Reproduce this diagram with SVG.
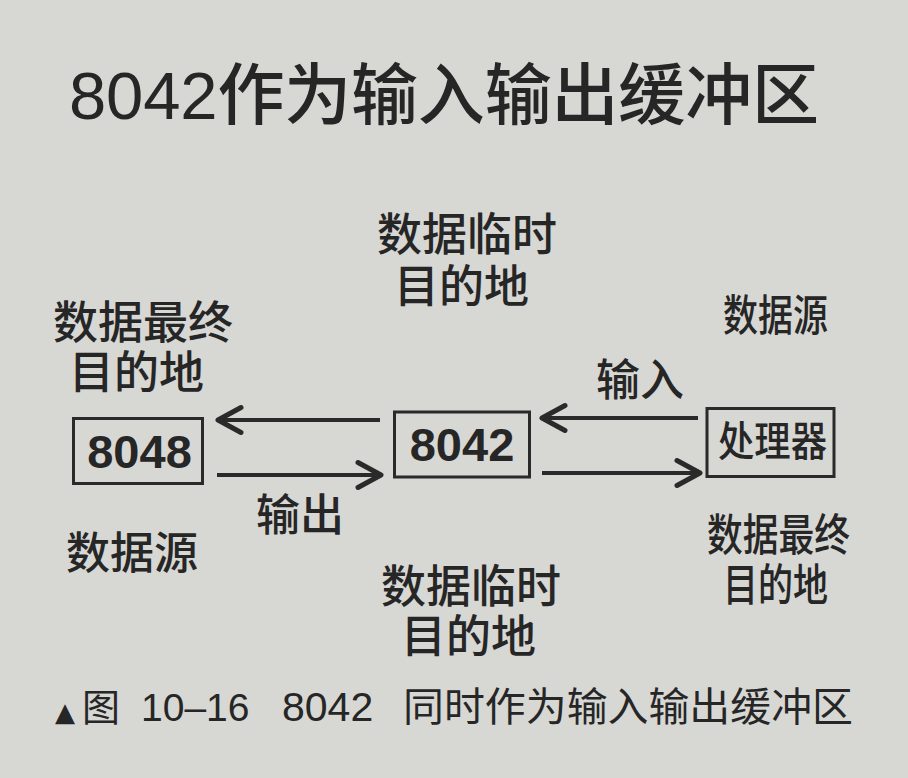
<svg xmlns="http://www.w3.org/2000/svg" width="908" height="778" viewBox="0 0 908 778">
  <style>
    .t { font-family: "Liberation Sans", "Noto Sans CJK SC", sans-serif; fill: #262626; }
    .m { font-weight: 500; }
    .lbl { font-size: 45px; }
    .num { font-size: 47px; font-weight: bold; }
    .box { fill: none; stroke: #2a2a2a; stroke-width: 3; }
    .conn { stroke: #2a2a2a; stroke-width: 4; fill: none; }
  </style>
  <defs>
    <marker id="arr" markerUnits="userSpaceOnUse" markerWidth="40" markerHeight="40" viewBox="-30 -20 40 40" refX="0" refY="0" orient="auto" overflow="visible">
      <path d="M -23,-12.5 L 0,0 L -23,12.5" fill="none" stroke="#2a2a2a" stroke-width="5" stroke-linecap="round" stroke-linejoin="round"/>
    </marker>
  </defs>
  <rect x="0" y="0" width="908" height="778" fill="#d7d7d4"/>

  <g id="title">
    <text class="t m" x="69" y="119" font-size="67" textLength="750" lengthAdjust="spacing">8042作为输入输出缓冲区</text>
  </g>

  <g id="connectors">
    <line class="conn" x1="380" y1="420" x2="218" y2="420" marker-end="url(#arr)"/>
    <line class="conn" x1="217" y1="475" x2="381" y2="475" marker-end="url(#arr)"/>
    <line class="conn" x1="698" y1="418" x2="542" y2="418" marker-end="url(#arr)"/>
    <line class="conn" x1="542" y1="473" x2="700" y2="473" marker-end="url(#arr)"/>
  </g>

  <g id="node-8048">
    <rect class="box" x="73.5" y="418.5" width="129" height="65"/>
    <text class="t num" x="139.5" y="468" text-anchor="middle">8048</text>
  </g>
  <g id="node-8042">
    <rect class="box" x="394.5" y="412" width="135" height="65"/>
    <text class="t num" x="462" y="461" text-anchor="middle">8042</text>
  </g>
  <g id="node-cpu">
    <rect class="box" x="707" y="408.5" width="127" height="68"/>
    <text class="t m" x="718" y="456" font-size="41" textLength="109" lengthAdjust="spacingAndGlyphs">处理器</text>
  </g>

  <g id="labels">
    <text class="t m lbl" x="377" y="251">数据临时</text>
    <text class="t m lbl" x="394" y="303">目的地</text>

    <text class="t m lbl" x="53" y="339">数据最终</text>
    <text class="t m lbl" x="69" y="389">目的地</text>

    <text class="t m" x="723" y="331" font-size="43" textLength="105" lengthAdjust="spacingAndGlyphs">数据源</text>
    <text class="t m" x="596" y="396" font-size="44">输入</text>

    <text class="t m" x="256" y="531" font-size="44">输出</text>
    <text class="t m" x="66" y="569" font-size="44">数据源</text>

    <text class="t m lbl" x="381" y="603">数据临时</text>
    <text class="t m lbl" x="401" y="653">目的地</text>

    <text class="t m" x="707" y="551" font-size="44" textLength="143" lengthAdjust="spacingAndGlyphs">数据最终</text>
    <text class="t m" x="723" y="601" font-size="44" textLength="105" lengthAdjust="spacingAndGlyphs">目的地</text>
  </g>

  <g id="caption">
    <text x="55" y="721" font-family="DejaVu Sans, sans-serif" font-size="26" fill="#262626">▲</text>
    <text class="t" x="82" y="721" font-size="38">图</text>
    <text class="t" x="141" y="721" font-size="39">10–16</text>
    <text class="t" x="282" y="721" font-size="41">8042</text>
    <text class="t" x="403" y="721" font-size="40" textLength="450" lengthAdjust="spacingAndGlyphs">同时作为输入输出缓冲区</text>
  </g>
</svg>
